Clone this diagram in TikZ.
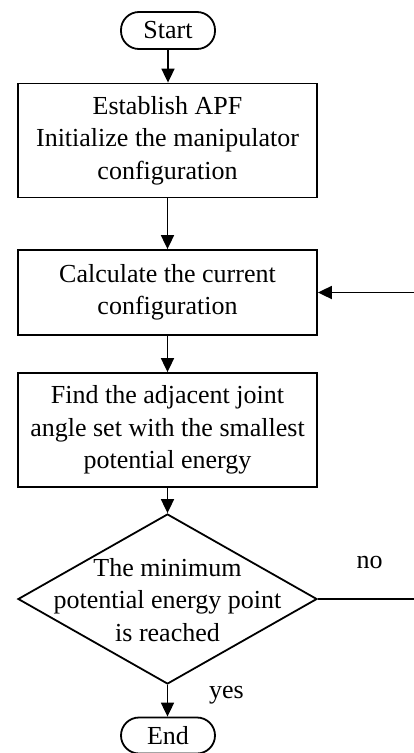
\documentclass[tikz,border=0pt]{standalone}
\usepackage{fontspec}
\setmainfont{Liberation Serif}
\usetikzlibrary{arrows.meta,shapes.geometric}
\begin{document}
\begin{tikzpicture}[x=1pt,y=-1pt,
  every node/.style={font=\fontsize{26}{32.5}\selectfont},
  procbox/.style={draw, line width=1.8pt, minimum width=299pt, align=center, inner sep=0pt},
  termbox/.style={draw, line width=1.8pt, rounded corners=18pt, minimum width=94pt, inner sep=0pt},
  flow/.style={line width=1.8pt, -{Triangle[length=14pt,width=13pt]}},
  plain/.style={line width=1.8pt}]
\useasboundingbox (0,0) rectangle (414,753);
\node[termbox, minimum height=37pt] (start) at (168,30.5) {Start};
\node[procbox, minimum height=114pt] (b1) at (167.5,140.5) {Establish APF\\Initialize the manipulator\\configuration};
\node[procbox, minimum height=85pt] (b2) at (167.5,292.5) {Calculate the current\\configuration};
\node[procbox, minimum height=114pt] (b3) at (167.5,430) {Find the adjacent joint\\angle set with the smallest\\potential energy};
\node[diamond, draw, line width=1.8pt, minimum width=299pt, minimum height=170pt, inner sep=0pt] (d) at (167.5,599) {};
\node[align=center, inner sep=0pt] (dtext) at (167.5,600) {The minimum\\potential energy point\\is reached};
\node[termbox, minimum height=36pt] (end) at (168,735.5) {End};
\node[anchor=base, inner sep=0pt] (no) at (369.5,568) {no};
\node[anchor=base, inner sep=0pt] (yes) at (226.5,698) {yes};
\coordinate (rt) at (414,292.5);
\coordinate (rb) at (414,599);
\draw[flow] (start.south) -- (start.south |- b1.north);
\draw[flow] (b1) -- (b2);
\draw[flow] (b2) -- (b3);
\draw[flow] (b3) -- (d);
\draw[flow] (d.south) -- (d.south |- end.north);
\draw[plain] (d.east) -- (rb);
\draw[flow] (rt) -- (b2.east);
\end{tikzpicture}
\end{document}
